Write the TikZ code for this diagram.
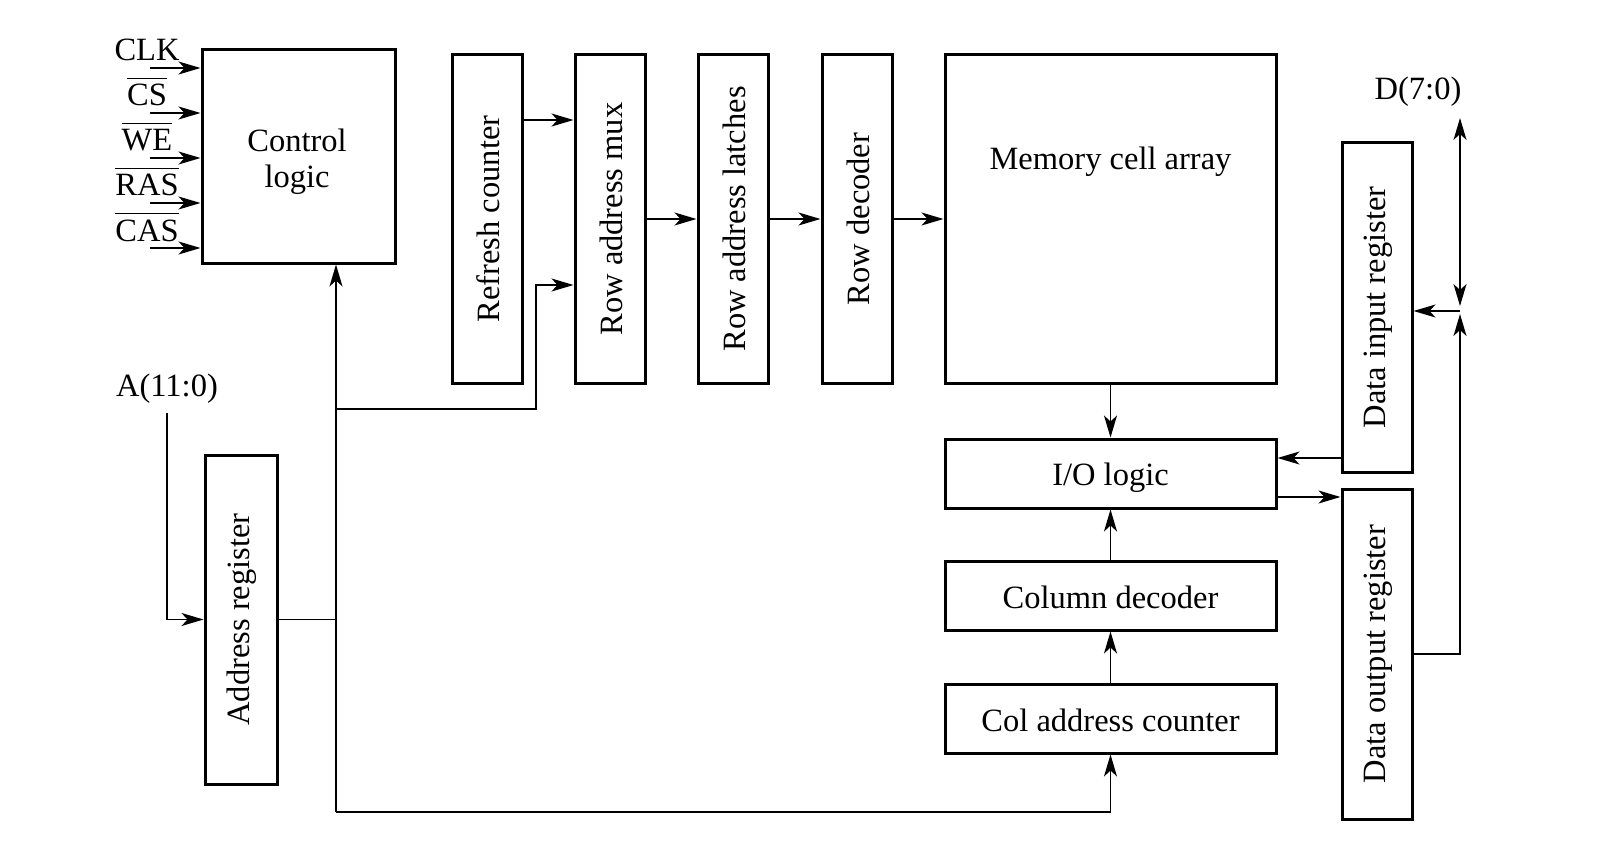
\documentclass[tikz,border=0pt]{standalone}
\usepackage{fontspec}
\setmainfont{Liberation Serif}
\usetikzlibrary{arrows.meta}
\begin{document}
\begin{tikzpicture}[x=1pt,y=-1pt,
  every node/.style={font=\fontsize{32.5}{36}\selectfont},
  box/.style={draw, line width=3pt, inner sep=0pt, align=center},
  wire/.style={line width=1.7pt},
  tip/.tip={Stealth[length=22pt,width=13pt,inset=6pt]},
  arr/.style={wire, -tip},
  darr/.style={wire, tip-tip},
  sig/.style={inner sep=0pt, anchor=base}
]
\fill[white] (0,0) rectangle (1607,856);
\useasboundingbox (0,0) rectangle (1607,856);

% boxes
\node[box, minimum width=193pt, minimum height=213pt] (ctrl) at (298.5,156.5) {};
\node[box, minimum width=70pt, minimum height=328pt] (refresh) at (487,219) {};
\node[box, minimum width=70pt, minimum height=328pt] (mux) at (610,219) {};
\node[box, minimum width=70pt, minimum height=328pt] (latch) at (733,219) {};
\node[box, minimum width=70pt, minimum height=328pt] (rowdec) at (857,219) {};
\node[box, minimum width=331pt, minimum height=328pt] (mem) at (1110.5,219) {};
\node[box, minimum width=331pt, minimum height=69pt] (io) at (1110.5,473.5) {};
\node[box, minimum width=331pt, minimum height=69pt] (coldec) at (1110.5,595.5) {};
\node[box, minimum width=331pt, minimum height=69pt] (colcnt) at (1110.5,718.5) {};
\node[box, minimum width=70pt, minimum height=329pt] (datain) at (1377,307.5) {};
\node[box, minimum width=70pt, minimum height=330pt] (dataout) at (1377,654) {};
\node[box, minimum width=72pt, minimum height=329pt] (addr) at (241,619.5) {};

% texts
\node[align=center] (ctrlt) at (297,162) {Control\\logic};
\node (memt) at (1110.5,162) {Memory cell array};
\node (iot) at (1110.5,477.5) {I/O logic};
\node (coldect) at (1110.5,597) {Column decoder};
\node (colcntt) at (1110.5,720) {Col address counter};
\node[rotate=90] (refresht) at (488,219) {Refresh counter};
\node[rotate=90] (muxt) at (611,219) {Row address mux};
\node[rotate=90] (latcht) at (734,219) {Row address latches};
\node[rotate=90] (rowdect) at (858,219) {Row decoder};
\node[rotate=90] (dataint) at (1378,307.5) {Data input register};
\node[rotate=90] (dataoutt) at (1378,654) {Data output register};
\node[rotate=90] (addrt) at (242,619.5) {Address register};
\node (A) at (167,389) {A(11:0)};
\node (D) at (1418,92) {D(7:0)};

% control signals
\node[sig] (clk) at (147,61) {CLK};
\node[sig] (cs) at (147,106) {CS};
\node[sig] (we) at (147,151) {WE};
\node[sig] (ras) at (147,196) {RAS};
\node[sig] (cas) at (147,241) {CAS};
\foreach \n in {cs,we,ras,cas}
  \draw[wire] ([yshift=27.5pt]\n.base west) -- ([yshift=27.5pt]\n.base east);
\coordinate (i1) at (150,68);
\coordinate (i2) at (150,113);
\coordinate (i3) at (150,158);
\coordinate (i4) at (150,203);
\coordinate (i5) at (150,248);
\foreach \c in {i1,i2,i3,i4,i5}
  \draw[arr] (\c) -- (\c -| ctrl.west);

% row path
\coordinate (r1) at (0,120);
\draw[arr] (r1 -| refresh.east) -- (r1 -| mux.west);
\draw[arr] (mux.east) -- (latch.west);
\draw[arr] (latch.east) -- (rowdec.west);
\draw[arr] (rowdec.east) -- (mem.west);

% address bus
\coordinate (jC) at (336,812);
\coordinate (jB) at (336,409);
\coordinate (kB) at (536,409);
\coordinate (m2) at (536,285);
\draw[wire] (addr.east) -- (addr.east -| jC);
\draw[arr] (jC) -- (jC |- ctrl.south);
\draw[arr] (jC) -| (colcnt.south);
\draw[arr] (jB) -- (kB) -- (m2) -- (m2 -| mux.west);
\coordinate (a0) at (167,413);
\draw[arr] (a0) |- (addr.west);

% column path
\draw[arr] (mem.south) -- (io.north);
\draw[arr] (coldec.north) -- (io.south);
\draw[arr] (colcnt.north) -- (coldec.south);

% data path
\coordinate (y458) at (0,458);
\coordinate (y497) at (0,497);
\draw[arr] (datain.west |- y458) -- (io.east |- y458);
\draw[arr] (io.east |- y497) -- (dataout.west |- y497);
\coordinate (Dtop) at (1460,118);
\coordinate (Dj) at (1460,311);
\coordinate (Dlo) at (1460,306);
\coordinate (Dhi) at (1460,314);
\draw[arr] (dataout.east) -| (Dhi);
\draw[arr] (Dj) -- (Dj -| datain.east);
\draw[darr] (Dtop) -- (Dlo);
\end{tikzpicture}
\end{document}
